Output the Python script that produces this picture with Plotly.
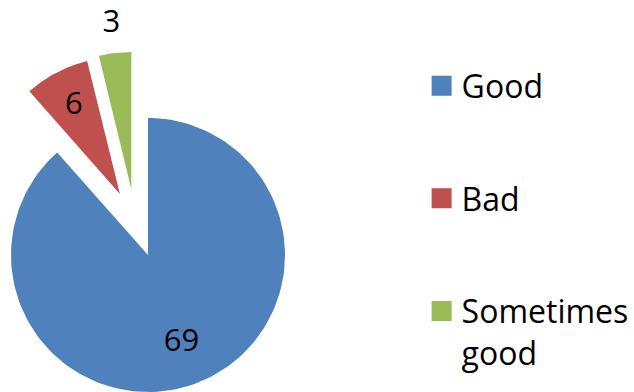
import numpy as np
import plotly.graph_objects as go

# ---- data ----
categories = ["Good", "Bad", "Sometimes good"]
legend_names = ["Good", "Bad", "Sometimes<br>good"]
values = [69, 6, 3]

# ---- style ----
colors = ["#4F81BD", "#C0504D", "#9BBB59"]
explode = [(0.0, 0.0), (-0.205, 0.445), (-0.122, 0.482)]   # slice offsets, in radius units
label_r = [0.69, 0.725, 1.21]                               # label distance from slice apex
FONT = "Open Sans"

total = float(sum(values))
fig = go.Figure()

lab_x, lab_y = [], []
cum = 0.0
for i, v in enumerate(values):
    f0, f1 = cum / total, (cum + v) / total
    th = np.radians(90.0 - 360.0 * np.linspace(f0, f1, 160))
    dx, dy = explode[i]
    xs = np.concatenate([[dx], dx + np.cos(th), [dx]])
    ys = np.concatenate([[dy], dy + np.sin(th), [dy]])
    fig.add_trace(go.Scatter(
        x=xs, y=ys, mode="lines", fill="toself",
        fillcolor=colors[i], line=dict(width=0, color=colors[i]),
        showlegend=False, hoverinfo="skip", name=categories[i],
    ))
    mid = np.radians(90.0 - 360.0 * (f0 + f1) / 2.0)
    lab_x.append(dx + label_r[i] * np.cos(mid))
    lab_y.append(dy + label_r[i] * np.sin(mid))
    cum += v

# value labels
fig.add_trace(go.Scatter(
    x=lab_x, y=lab_y, mode="text", text=[str(v) for v in values],
    textposition="middle center",
    textfont=dict(family=FONT, size=31, color="black"),
    showlegend=False, hoverinfo="skip",
))

# legend entries
for i, name in enumerate(legend_names):
    fig.add_trace(go.Scatter(
        x=[None], y=[None], mode="markers", name=name, legendgroup=categories[i],
        marker=dict(symbol="square", size=16, color=colors[i],
                    line=dict(color=colors[i], width=4)),
    ))

R_PX = 137.0
CX, CY = 148.0, 255.0
W, H = 634, 392

fig.update_layout(
    width=W, height=H,
    margin=dict(l=0, r=0, t=0, b=0),
    paper_bgcolor="white", plot_bgcolor="white",
    xaxis=dict(range=[-CX / R_PX, (W - CX) / R_PX], visible=False, fixedrange=True),
    yaxis=dict(range=[-(H - CY) / R_PX, CY / R_PX], visible=False, fixedrange=True),
    showlegend=True,
    legend=dict(
        x=0.665, y=0.851, xanchor="left", yanchor="top",
        font=dict(family=FONT, size=32, color="black"),
        tracegroupgap=68, valign="top", itemsizing="trace",
        bgcolor="rgba(0,0,0,0)",
    ),
    font=dict(family=FONT),
)

fig.write_html("out.html")
